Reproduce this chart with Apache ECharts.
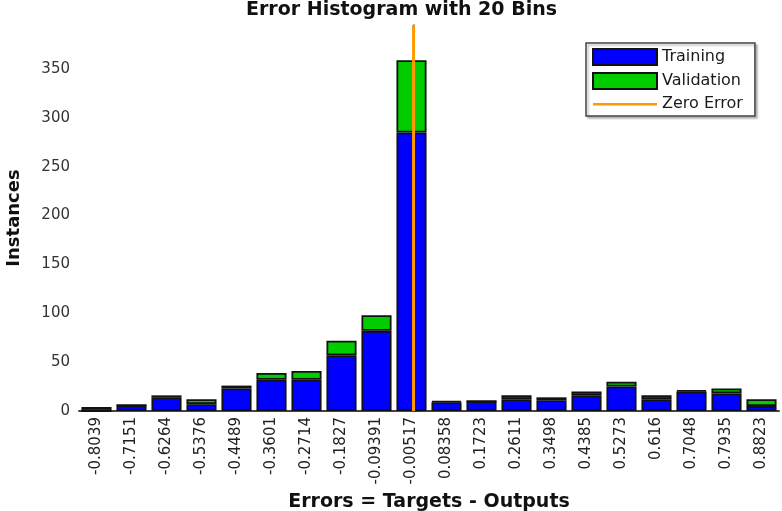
<!DOCTYPE html>
<html>
<head>
<meta charset="utf-8">
<script src="https://cdn.jsdelivr.net/npm/echarts@6/dist/echarts.min.js"></script>
<style>
    html, body { margin: 0; padding: 0; background: #fff; }
    #chart_div { width: 782px; height: 511px; }
</style>
</head>
<body>
<div id="chart_div"></div>
<script>
    // bin centres (x tick labels)
    const binLabels = ['-0.8039', '-0.7151', '-0.6264', '-0.5376', '-0.4489', '-0.3601', '-0.2714', '-0.1827', '-0.09391', '-0.00517',
        '0.08358', '0.1723', '0.2611', '0.3498', '0.4385', '0.5273', '0.616', '0.7048', '0.7935', '0.8823'];
    const training = [0, 6, 14, 7, 23, 32, 32, 57, 82, 285, 9, 10, 12, 11, 16, 25, 12, 20, 18, 5];
    const validation = [4, 0, 2, 5, 3, 7, 9, 15, 16, 74, 1, 0, 4, 3, 4, 5, 4, 1, 5, 7];
    const yTicks = [0, 50, 100, 150, 200, 250, 300, 350];
    const yMax = 395;
    const zeroError = 0;
    const binWidth = 0.08872;

    let myChart = echarts.init(document.getElementById('chart_div'));
    const font = 'DejaVu Sans';
    const barBorder = { borderColor: '#111', borderWidth: 1.8 };

    myChart.setOption({
        animation: false,
        backgroundColor: '#fff',
        title: {
            text: 'Error Histogram with 20 Bins',
            left: 246,
            top: 1,
            padding: 0,
            textStyle: { fontFamily: font, fontSize: 19, fontWeight: 'bold', color: '#111' }
        },
        legend: {
            data: [
                { name: 'Training', icon: 'rect' },
                { name: 'Validation', icon: 'rect' },
                // thin strip, the extra move points keep the full icon box
                { name: 'Zero Error', icon: 'path://M0,0M0,7L64,7L64,9.5L0,9.5ZM64,16' }
            ],
            orient: 'vertical',
            left: 586,
            top: 43,
            padding: [5, 12, 4, 6],
            itemWidth: 64,
            itemHeight: 16,
            itemGap: 6,
            backgroundColor: '#fff',
            borderColor: '#444',
            borderWidth: 1.5,
            shadowColor: 'rgba(0,0,0,0.25)',
            shadowOffsetX: 2,
            shadowOffsetY: 2,
            shadowBlur: 2,
            textStyle: { fontFamily: font, fontSize: 16, color: '#1a1a1a' }
        },
        grid: { left: 79, right: 3, top: 25, bottom: 100, containLabel: false, outerBoundsMode: 'none' },
        xAxis: [
            {
                type: 'category',
                data: binLabels,
                boundaryGap: true,
                name: 'Errors = Targets - Outputs',
                nameLocation: 'middle',
                nameGap: 75,
                nameTextStyle: { fontFamily: font, fontSize: 19, fontWeight: 'bold', color: '#111' },
                axisLine: { lineStyle: { color: '#444', width: 2 } },
                axisTick: { show: false },
                axisLabel: { rotate: 90, interval: 0, margin: 6, fontFamily: font, fontSize: 15, color: '#222' }
            },
            {
                // value axis used only to place the zero error line
                type: 'value',
                show: false,
                min: Number(binLabels[0]) - binWidth / 2,
                max: Number(binLabels[binLabels.length - 1]) + binWidth / 2
            }
        ],
        yAxis: {
            type: 'value',
            min: 0,
            max: yMax,
            name: 'Instances',
            nameLocation: 'middle',
            nameGap: 56,
            nameTextStyle: { fontFamily: font, fontSize: 18, fontWeight: 'bold', color: '#111' },
            splitLine: { show: false },
            axisLine: { show: true, lineStyle: { color: '#333', width: 1.5 } },
            axisTick: { show: true, inside: true, length: 7, customValues: yTicks, lineStyle: { color: '#333' } },
            axisLabel: { customValues: yTicks, margin: 9, fontFamily: font, fontSize: 15, color: '#333' }
        },
        series: [
            {
                name: 'Training',
                type: 'bar',
                stack: 'hist',
                barCategoryGap: '14%',
                itemStyle: Object.assign({ color: '#0000ff' }, barBorder),
                data: training
            },
            {
                name: 'Validation',
                type: 'bar',
                stack: 'hist',
                barCategoryGap: '14%',
                itemStyle: Object.assign({ color: '#00cc00' }, barBorder),
                data: validation
            },
            {
                name: 'Zero Error',
                type: 'line',
                xAxisIndex: 1,
                symbol: 'none',
                itemStyle: { color: '#ff9900' },
                lineStyle: { color: '#ff9900', width: 3 },
                data: [[zeroError, 0], [zeroError, yMax]]
            }
        ]
    });
</script>
</body>
</html>
